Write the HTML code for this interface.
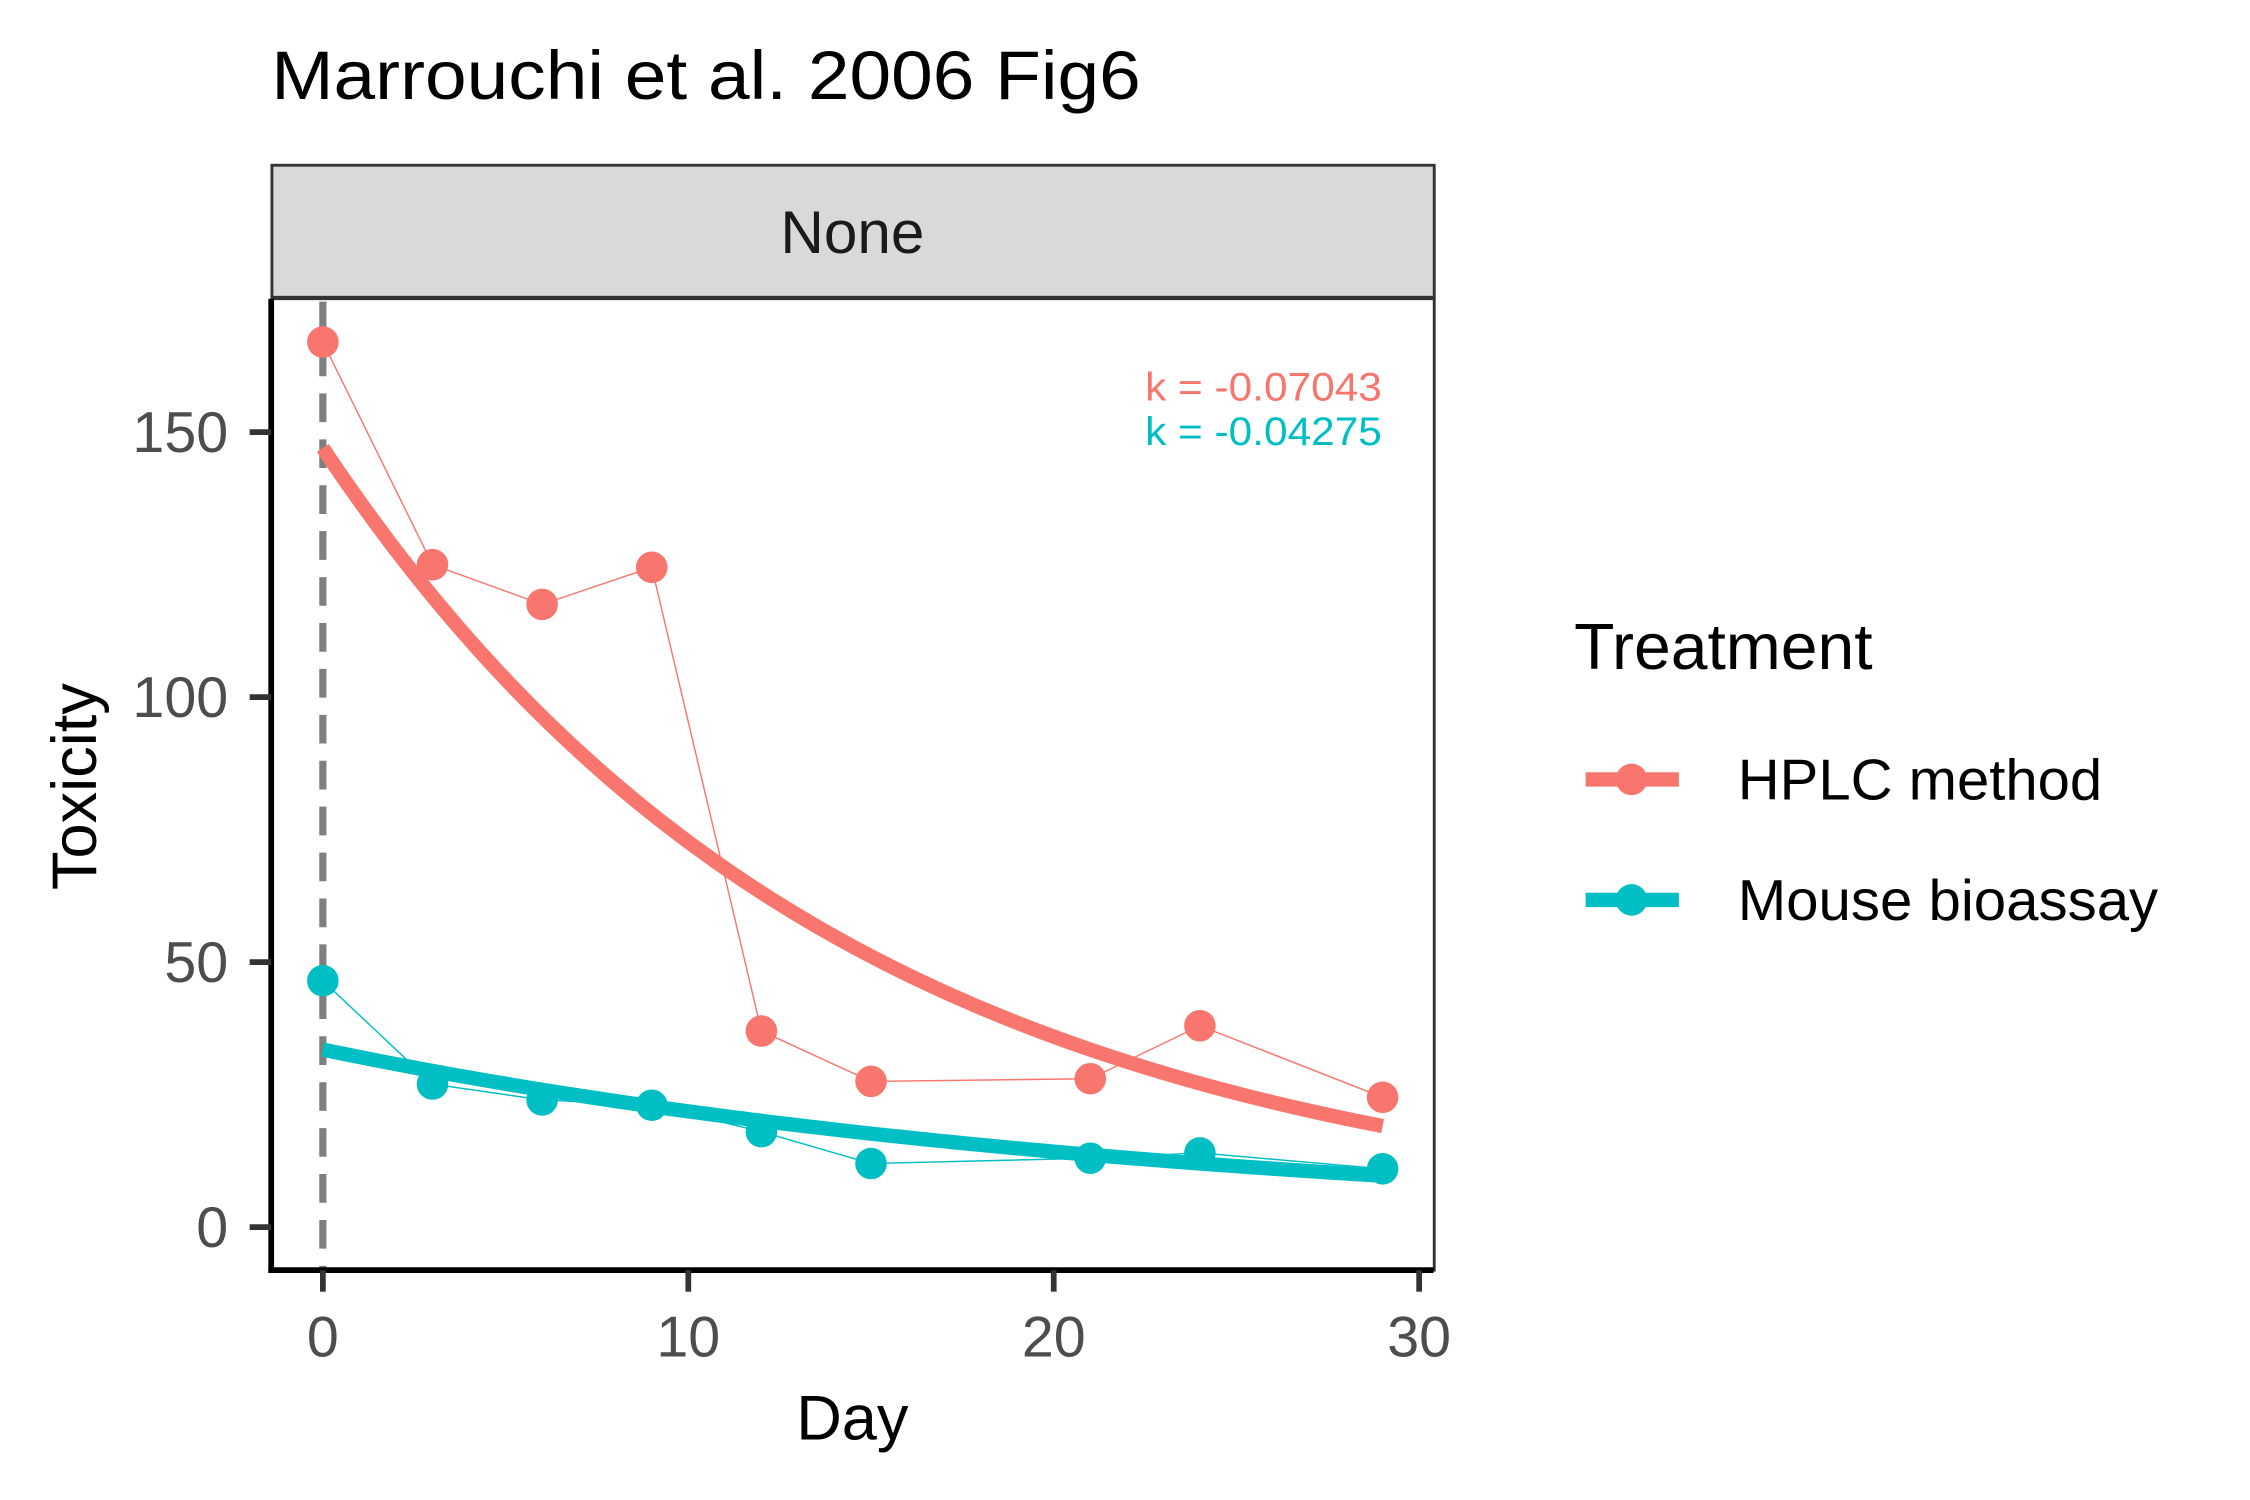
<!DOCTYPE html>
<html><head><meta charset="utf-8"><style>html,body{margin:0;padding:0;background:#fff}svg{display:block}text{font-family:"Liberation Sans",sans-serif}</style></head>
<body>
<svg id="chart" width="2250" height="1500" viewBox="0 0 1568 1045" xmlns="http://www.w3.org/2000/svg">
<rect width="1568" height="1045" fill="#fff"/>
<text x="189" y="69" font-size="48" textLength="606" lengthAdjust="spacingAndGlyphs" fill="#000">Marrouchi et al. 2006 Fig6</text>
<rect x="189.5" y="115" width="810" height="92" fill="#d9d9d9" stroke="#333" stroke-width="2"/>
<text x="594" y="176" font-size="42" text-anchor="middle" fill="#1a1a1a">None</text>
<rect x="189.5" y="208" width="810" height="677" fill="#fff" stroke="#333" stroke-width="2"/>
<g id="marks"></g>
<line x1="189" y1="208" x2="189" y2="887" stroke="#000" stroke-width="4"/>
<line x1="187" y1="885" x2="999" y2="885" stroke="#000" stroke-width="4"/>
<g id="axes"></g>
<text x="594" y="1003" font-size="44" text-anchor="middle" fill="#000">Day</text>
<text transform="translate(67,548) rotate(-90)" font-size="44" text-anchor="middle" fill="#000">Toxicity</text>
<text x="963" y="279" font-size="28" textLength="165" lengthAdjust="spacingAndGlyphs" text-anchor="end" fill="#F8766D">k = -0.07043</text>
<text x="963" y="310" font-size="28" textLength="165" lengthAdjust="spacingAndGlyphs" text-anchor="end" fill="#00BFC4">k = -0.04275</text>
<text x="1097" y="466" font-size="45" textLength="208" lengthAdjust="spacingAndGlyphs" fill="#000">Treatment</text>
<g>
<line x1="1105" y1="543" x2="1170" y2="543" stroke="#F8766D" stroke-width="10"/>
<circle cx="1137" cy="543" r="11" fill="#F8766D"/>
<text x="1211" y="557" font-size="40" textLength="254" lengthAdjust="spacingAndGlyphs" fill="#000">HPLC method</text></g>
<g>
<line x1="1105" y1="627" x2="1170" y2="627" stroke="#00BFC4" stroke-width="10"/>
<circle cx="1137" cy="627" r="11" fill="#00BFC4"/>
<text x="1211" y="641" font-size="40" textLength="293" lengthAdjust="spacingAndGlyphs" fill="#000">Mouse bioassay</text></g>
</svg>
<script>
const days = [0,3,6,9,12,15,21,24,29];
const hplcValues = [167,125,117.5,124.5,37,27.5,28,38,24.5];
const mouseValues = [46.5,27,24,23,18,12,13,14,11];
const hplcFit = [147, -0.07043];
const mouseFit = [33.5, -0.04275];
const xTicks = [0,10,20,30];
const yTicks = [0,50,100,150];
const NS='http://www.w3.org/2000/svg';
const X = d => 225 + d*(989-225)/30;
const Y = v => 855 - v*(855-301)/150;
function mk(tag, attrs, parent){const e=document.createElementNS(NS,tag);for(const k in attrs)e.setAttribute(k,attrs[k]);parent.appendChild(e);return e;}
const marks=document.getElementById('marks'), axes=document.getElementById('axes');
const dl=mk('line',{x1:X(0),y1:210,x2:X(0),y2:885,stroke:'#7f7f7f','stroke-width':5,'stroke-dasharray':'20 12'},marks);


function series(vals, fit, color, name){
  const g=mk('g',{},marks);
  
  
  const pl=mk('polyline',{points:days.map((d,i)=>X(d)+','+Y(vals[i])).join(' '),fill:'none',stroke:color,'stroke-width':1},g);
  
  
  const pts=[];for(let t=0;t<=29;t+=0.25)pts.push(X(t)+','+Y(fit[0]*Math.exp(fit[1]*t)));
  const fc=mk('polyline',{points:pts.join(' '),fill:'none',stroke:color,'stroke-width':10},g);
  
  
  days.forEach((d,i)=>{const c=mk('circle',{cx:X(d),cy:Y(vals[i]),r:11,fill:color},g);
    
    });
}
series(hplcValues,hplcFit,'#F8766D','hplc');
series(mouseValues,mouseFit,'#00BFC4','mouse');
yTicks.forEach(v=>{
  const t=mk('line',{x1:174,y1:Y(v),x2:189,y2:Y(v),stroke:'#333','stroke-width':4},axes);
  
  
  const l=mk('text',{x:159,y:Y(v)+14,'font-size':40,'text-anchor':'end',fill:'#4d4d4d'},axes);l.textContent=v;
  
  
});
xTicks.forEach(v=>{
  const t=mk('line',{x1:X(v),y1:885,x2:X(v),y2:900,stroke:'#333','stroke-width':4},axes);
  
  
  const l=mk('text',{x:X(v),y:945,'font-size':40,'text-anchor':'middle',fill:'#4d4d4d'},axes);l.textContent=v;
  
  
});
</script>
</body></html>
